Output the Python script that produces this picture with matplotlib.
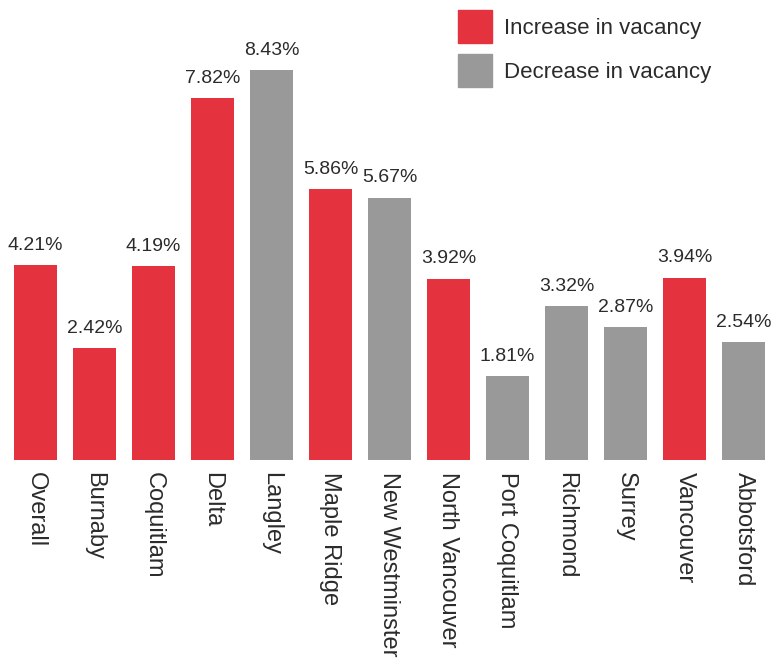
import matplotlib
matplotlib.use("Agg")
import matplotlib.pyplot as plt
from matplotlib.patches import Patch

plt.rcParams['font.family'] = ['Liberation Sans', 'DejaVu Sans']

#data
cities = ["Overall", "Burnaby", "Coquitlam", "Delta", "Langley", "Maple Ridge",
          "New Westminster", "North Vancouver", "Port Coquitlam", "Richmond",
          "Surrey", "Vancouver", "Abbotsford"]
vacancy = [4.21, 2.42, 4.19, 7.82, 8.43, 5.86, 5.67, 3.92, 1.81, 3.32, 2.87, 3.94, 2.54]
increase = [True, True, True, True, False, True, False, True, False, False, False, True, False]

red = "#E5323F"
gray = "#999999"
text_col = "#2b2b2b"

fig = plt.figure(figsize=(7.71, 6.6), dpi=100)
ax = fig.add_axes([0, 200 / 660, 1, 460 / 660])

x = list(range(len(cities)))
colors = [red if up else gray for up in increase]
bars = ax.bar(x, vacancy, width=0.73, color=colors)

for xi, v in zip(x, vacancy):
    ax.annotate(f"{v:.2f}%", (xi, v), xytext=(0, 11), textcoords="offset points",
                ha="center", va="baseline", fontsize=14, color=text_col)

ax.set_xlim(-0.6, 12.466)
ax.set_ylim(0, 9.94)
ax.set_xticks(x)
ax.set_xticklabels(cities, rotation=-90, fontsize=17, color=text_col)
ax.tick_params(axis="x", length=0, pad=9)
ax.set_yticks([])
for s in ax.spines.values():
    s.set_visible(False)

handles = [Patch(color=red, label="Increase in vacancy"),
           Patch(color=gray, label="Decrease in vacancy")]
fig.legend(handles=handles, loc="upper left", bbox_to_anchor=(438 / 771, 1 + 10 / 660),
           frameon=False, fontsize=16, handlelength=1.55, handleheight=1.9,
           handletextpad=0.5, labelspacing=0.5, labelcolor=text_col)

fig.savefig("out.png", dpi=100)
